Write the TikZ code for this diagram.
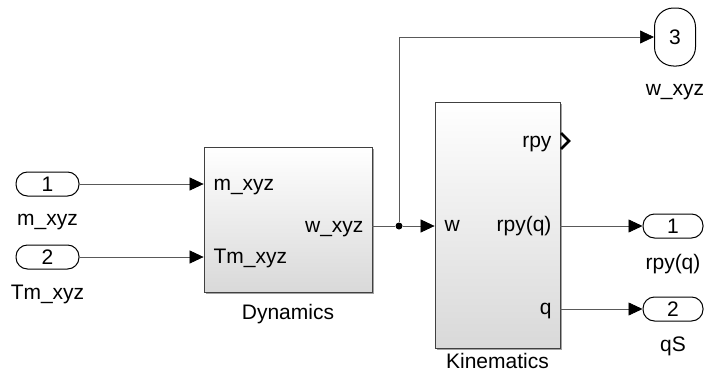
\documentclass[tikz,border=0pt]{standalone}
\usepackage{fontspec}
\setmainfont{Liberation Sans}
\usetikzlibrary{arrows.meta, positioning, shadows}

\begin{document}
\begin{tikzpicture}[
    x=1pt, y=-1pt,
    font=\fontsize{21}{25}\selectfont,
    sig/.style={-{Triangle[length=14pt, width=13pt, color=black]}, line width=0.7pt, black!65},
    wire/.style={line width=0.7pt, black!65},
    inport/.style={draw, line width=1pt, rounded corners=11.5pt, minimum width=63pt, minimum height=24pt, inner sep=0pt},
    outport/.style={inport, minimum width=60pt},
    block/.style={draw=black!75, line width=0.8pt, top color=white, bottom color=black!15,
        drop shadow={shadow xshift=1.5pt, shadow yshift=-1.5pt, fill=black!60, opacity=0.6}},
    dot/.style={circle, fill=black, inner sep=0pt, minimum size=7pt}
]
\useasboundingbox (0,0) rectangle (705,383);

% ===== Inports =====
\node[inport] (in1) at (47.5,184) {1};
\node[anchor=base] (in1_name) at (47.5,225) {m\_xyz};
\node[inport] (in2) at (47.5,257) {2};
\node[anchor=base] (in2_name) at (47.5,299) {Tm\_xyz};

% ===== Dynamics block =====
\node[block, minimum width=168pt, minimum height=145pt] (dyn) at (288,219.5) {};
\node[anchor=base west] (dyn_m) at (210,190) {m\_xyz};
\node[anchor=base west] (dyn_tm) at (210,263) {Tm\_xyz};
\node[anchor=base east] (dyn_w) at (367,232) {w\_xyz};
\node[anchor=base] (dyn_name) at (288,319) {Dynamics};

% ===== Kinematics block =====
\node[block, minimum width=125pt, minimum height=246pt] (kin) at (497.5,225) {};
\node[anchor=base east] (kin_rpy) at (555,147) {rpy};
\node[anchor=base west] (kin_w) at (441,231) {w};
\node[anchor=base east] (kin_rpyq) at (555,231) {rpy(q)};
\node[anchor=base east] (kin_q) at (555,314) {q};
\node[anchor=base] (kin_name) at (497.5,368) {Kinematics};
\coordinate (rpy_port) at (561,141);
\draw[line width=2.6pt] ([shift={(0,-8)}]rpy_port) -- ([shift={(8,0)}]rpy_port) -- ([shift={(0,8)}]rpy_port);

% ===== Outports =====
\node[inport, minimum width=41pt, minimum height=58pt, rounded corners=19pt] (out3) at (675,37) {3};
\node[anchor=base] (out3_name) at (675,95) {w\_xyz};
\node[outport] (out1) at (673,226) {1};
\node[anchor=base] (out1_name) at (673,269) {rpy(q)};
\node[outport] (out2) at (673,309) {2};
\node[anchor=base] (out2_name) at (673,351) {qS};

% ===== Signals =====
\draw[sig] (in1) -- (dyn.west |- in1);
\draw[sig] (in2) -- (dyn.west |- in2);
\node[dot] (br) at (399,226) {};
\draw[wire] (dyn.east |- br) -- (br);
\draw[sig] (br) -- (kin.west |- br);
\draw[sig] (br) |- (out3);
\draw[sig] (kin.east |- out1) -- (out1);
\draw[sig] (kin.east |- out2) -- (out2);

\end{tikzpicture}
\end{document}
